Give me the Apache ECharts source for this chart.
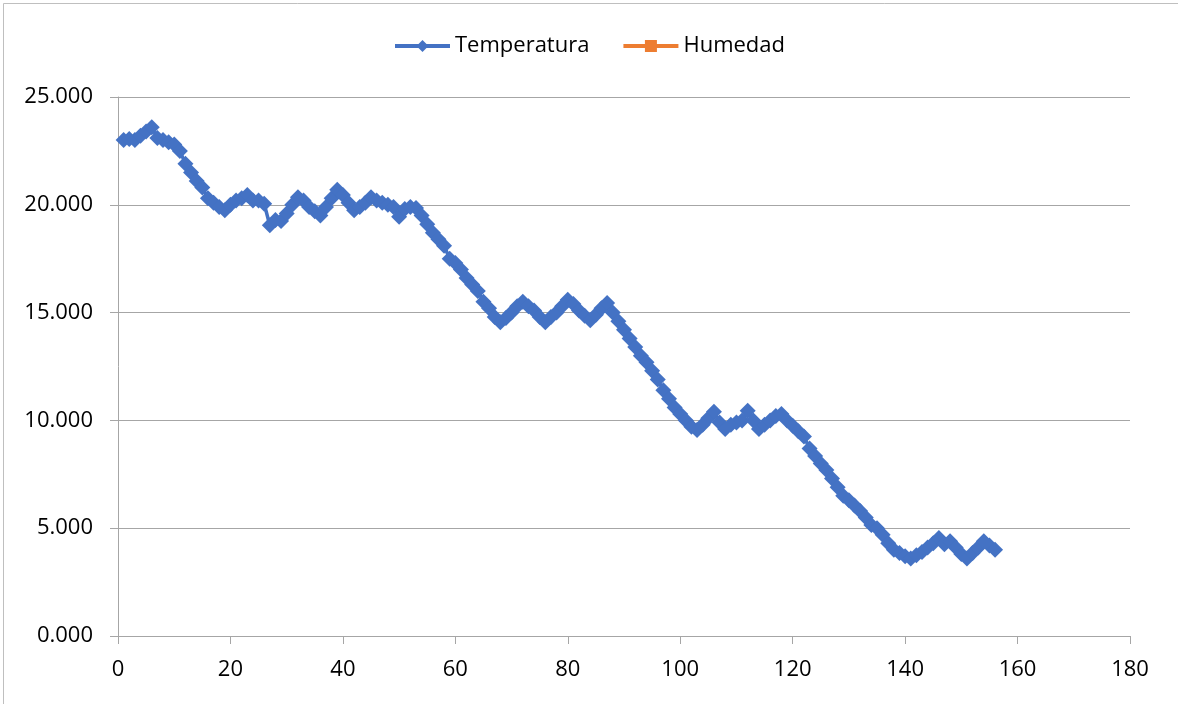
<!DOCTYPE html>
<html>
<head>
<meta charset="utf-8">
<script src="https://cdn.jsdelivr.net/npm/echarts@6/dist/echarts.min.js"></script>
<style>
html,body{margin:0;padding:0;background:#fff;}
#chart{width:1178px;height:704px;}
</style>
</head>
<body>
<div id="chart"></div>
<script>
// Sample index (x) starts at 1
const xStart = 1;
const temperatura = [
  23.0, 23.05, 23.0, 23.2, 23.4, 23.6, 23.1, 23.0, 22.9, 22.8,
  22.5, 21.9, 21.5, 21.1, 20.8, 20.3, 20.1, 19.9, 19.75, 20.0,
  20.2, 20.3, 20.45, 20.2, 20.2, 20.05, 19.05, 19.3, 19.25, 19.6,
  20.0, 20.35, 20.2, 19.9, 19.7, 19.5, 19.9, 20.3, 20.7, 20.45,
  20.1, 19.75, 19.9, 20.1, 20.35, 20.2, 20.1, 20.0, 19.9, 19.45,
  19.8, 19.9, 19.85, 19.5, 19.1, 18.7, 18.4, 18.1, 17.5, 17.3,
  17.0, 16.6, 16.3, 16.0, 15.5, 15.2, 14.8, 14.55, 14.75, 15.0,
  15.3, 15.5, 15.3, 15.1, 14.8, 14.55, 14.8, 15.0, 15.3, 15.6,
  15.4, 15.1, 14.85, 14.65, 14.9, 15.2, 15.45, 15.0, 14.6, 14.2,
  13.8, 13.4, 13.0, 12.7, 12.3, 11.9, 11.4, 11.0, 10.6, 10.3,
  10.0, 9.7, 9.55, 9.8, 10.1, 10.4, 9.9, 9.6, 9.8, 9.9,
  10.0, 10.45, 10.0, 9.6, 9.8, 10.0, 10.2, 10.3, 10.0, 9.75,
  9.5, 9.25, 8.7, 8.35, 8.0, 7.7, 7.3, 6.9, 6.5, 6.3,
  6.05, 5.8, 5.5, 5.15, 5.0, 4.7, 4.3, 4.0, 3.85, 3.7,
  3.6, 3.75, 3.9, 4.1, 4.3, 4.55, 4.25, 4.4, 4.1, 3.8,
  3.6, 3.85, 4.1, 4.4, 4.2, 4.0
];
const humedad = [];
const seriesNames = ['Temperatura', 'Humedad'];

const tempData = temperatura.map((v, i) => [xStart + i, v]);

const chart = echarts.init(document.getElementById('chart'), null, {renderer: 'canvas'});
const font = 'Open Sans';
chart.setOption({
  animation: false,
  backgroundColor: '#ffffff',
  graphic: [{
    type: 'rect', left: 1, top: 1,
    shape: {x: 0, y: 0, width: 1175, height: 701},
    style: {fill: 'none', stroke: '#BFBFBF', lineWidth: 1},
    silent: true
  }],
  legend: {
    top: 30,
    left: 'center',
    itemWidth: 55,
    itemHeight: 15,
    itemGap: 32,
    data: [
      {name: seriesNames[0], lineStyle: {width: 4, color: '#4472C4'}},
      {name: seriesNames[1], lineStyle: {width: 4, color: '#ED7D31'}}
    ],
    textStyle: {fontFamily: font, fontSize: 22, color: '#000'}
  },
  grid: {left: 118, right: 48, top: 97, bottom: 68},
  xAxis: {
    type: 'value', min: 0, max: 180, interval: 20,
    axisLine: {show: true, lineStyle: {color: '#A6A6A6', width: 1}},
    axisTick: {show: true, length: 8, lineStyle: {color: '#A6A6A6'}},
    splitLine: {show: false},
    axisLabel: {fontFamily: font, fontSize: 22, color: '#000', margin: 23}
  },
  yAxis: {
    type: 'value', min: 0, max: 25, interval: 5,
    axisLine: {show: true, lineStyle: {color: '#A6A6A6', width: 1}},
    axisTick: {show: true, length: 8, lineStyle: {color: '#A6A6A6'}},
    splitLine: {show: true, lineStyle: {color: '#A6A6A6', width: 1}},
    axisLabel: {fontFamily: font, fontSize: 22, color: '#000', margin: 25,
      formatter: v => v.toFixed(3)}
  },
  series: [{
    name: seriesNames[0],
    type: 'line',
    data: tempData,
    symbol: 'diamond',
    symbolSize: 16,
    showAllSymbol: true,
    color: '#4472C4',
    lineStyle: {color: '#4472C4', width: 3.5},
    itemStyle: {color: '#4472C4'}
  }, {
    name: seriesNames[1],
    type: 'line',
    data: humedad,
    symbol: 'rect',
    symbolSize: 11,
    color: '#ED7D31',
    lineStyle: {color: '#ED7D31', width: 3.5},
    itemStyle: {color: '#ED7D31'}
  }]
});
</script>
</body>
</html>
